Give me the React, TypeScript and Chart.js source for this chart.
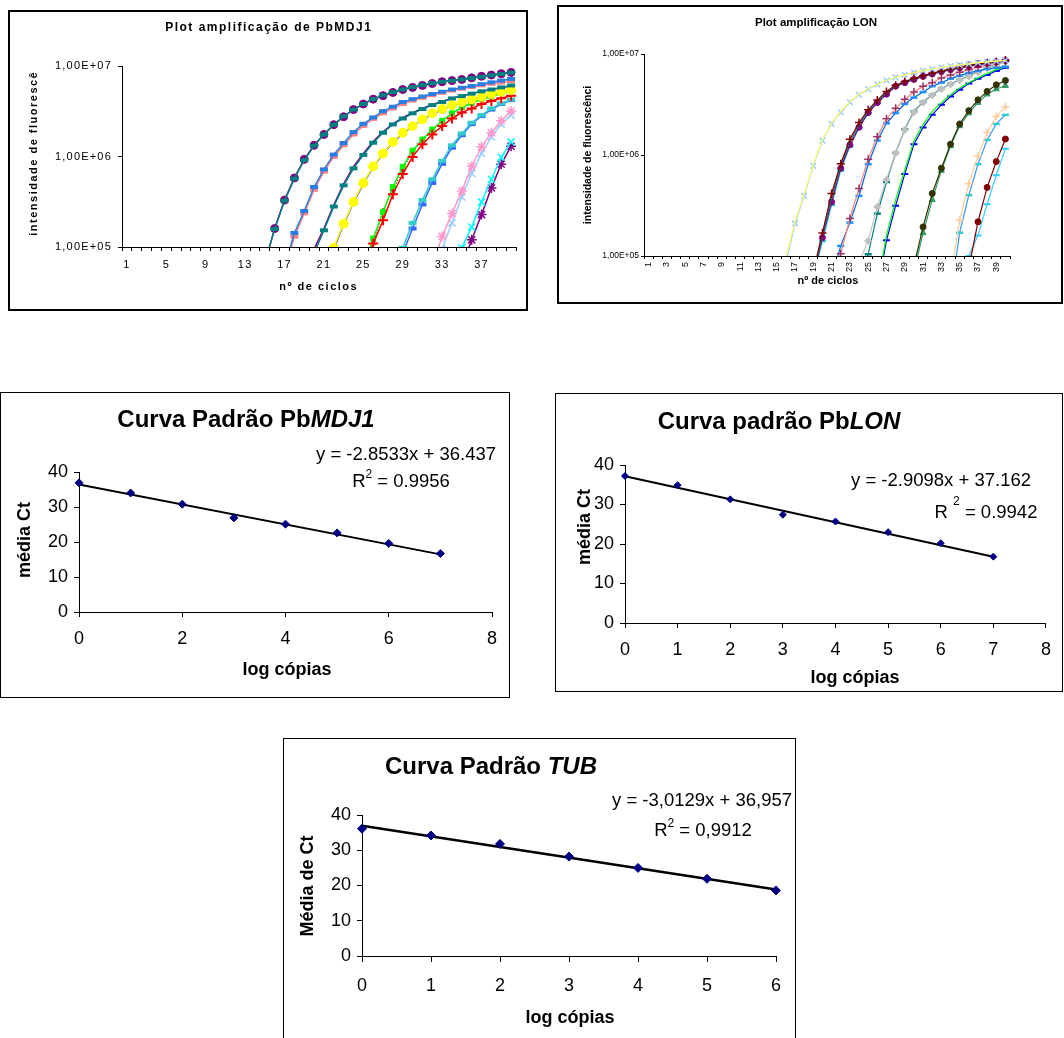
import React, { useEffect, useRef } from "react";
import { Chart, registerables } from "chart.js";

Chart.register(...registerables);

const FONT = "'Liberation Sans', Arial, Helvetica, sans-serif";
Chart.defaults.font.family = FONT;
Chart.defaults.color = "#000";

// ---------------- categories and tick labels ----------------
const cycles = [
  "1", "2", "3", "4", "5", "6", "7", "8", "9", "10",
  "11", "12", "13", "14", "15", "16", "17", "18", "19", "20",
  "21", "22", "23", "24", "25", "26", "27", "28", "29", "30",
  "31", "32", "33", "34", "35", "36", "37", "38", "39", "40",
];
const ampYTickValues = [1e5, 1e6, 1e7];
const ampYTickLabels = ["1,00E+05", "1,00E+06", "1,00E+07"];

// values are listed from their first (start) cycle on; earlier cycles have no value
function fromCycle(start: number, values: number[]): (number | null)[] {
  const out: (number | null)[] = [];
  for (let c = 1; c < start; c++) out.push(null);
  return out.concat(values);
}

// ---------------- PbMDJ1 amplification (fluorescence) ----------------
const mdjA1 = fromCycle(15, [6.5e4, 1.6e5, 3.3e5, 5.8e5, 9.3e5, 1.33e6, 1.75e6, 2.25e6, 2.75e6, 3.3e6, 3.8e6, 4.3e6, 4.7e6, 5.1e6, 5.5e6, 5.8e6, 6.1e6, 6.4e6, 6.7e6, 6.9e6, 7.1e6, 7.4e6, 7.7e6, 7.95e6, 8.2e6, 8.5e6]);
const mdjA2 = fromCycle(15, [6.8e4, 1.58e5, 3.25e5, 5.7e5, 9.1e5, 1.32e6, 1.75e6, 2.25e6, 2.78e6, 3.3e6, 3.8e6, 4.3e6, 4.75e6, 5.15e6, 5.5e6, 5.85e6, 6.15e6, 6.45e6, 6.7e6, 6.9e6, 7.1e6, 7.35e6, 7.6e6, 7.9e6, 8.15e6, 8.45e6]);
const mdjB1 = fromCycle(17, [6e4, 1.43e5, 2.5e5, 4.6e5, 7.2e5, 1.05e6, 1.41e6, 1.86e6, 2.3e6, 2.7e6, 3.17e6, 3.55e6, 4.0e6, 4.3e6, 4.6e6, 4.9e6, 5.2e6, 5.5e6, 5.75e6, 6.0e6, 6.3e6, 6.6e6, 6.9e6, 7.2e6]);
const mdjB2 = fromCycle(17, [5.5e4, 1.3e5, 2.35e5, 4.3e5, 6.8e5, 9.9e5, 1.33e6, 1.75e6, 2.18e6, 2.6e6, 3.0e6, 3.4e6, 3.8e6, 4.15e6, 4.45e6, 4.75e6, 5.05e6, 5.35e6, 5.6e6, 5.85e6, 6.1e6, 6.35e6, 6.55e6, 6.8e6]);
const mdjC1 = fromCycle(20, [9.5e4, 1.6e5, 2.9e5, 5.0e5, 7.7e5, 1.08e6, 1.46e6, 1.87e6, 2.3e6, 2.68e6, 3.05e6, 3.4e6, 3.75e6, 4.05e6, 4.4e6, 4.65e6, 4.95e6, 5.25e6, 5.5e6, 5.75e6, 6.05e6]);
const mdjC2 = fromCycle(20, [8.5e4, 1.53e5, 2.8e5, 4.8e5, 7.4e5, 1.04e6, 1.42e6, 1.83e6, 2.26e6, 2.63e6, 3.0e6, 3.35e6, 3.7e6, 4.0e6, 4.38e6, 4.65e6, 4.95e6, 5.25e6, 5.5e6, 5.8e6, 6.1e6]);
const mdjD1 = fromCycle(22, [9.8e4, 1.81e5, 3.15e5, 5.1e5, 7.8e5, 1.08e6, 1.45e6, 1.83e6, 2.17e6, 2.57e6, 3.0e6, 3.34e6, 3.7e6, 3.98e6, 4.27e6, 4.57e6, 4.9e6, 5.2e6, 5.4e6]);
const mdjD2 = fromCycle(22, [9.5e4, 1.78e5, 3.1e5, 5.0e5, 7.7e5, 1.07e6, 1.43e6, 1.8e6, 2.15e6, 2.55e6, 2.95e6, 3.3e6, 3.65e6, 3.95e6, 4.25e6, 4.55e6, 4.85e6, 5.15e6, 5.35e6]);
const mdjE1 = fromCycle(25, [6e4, 1.24e5, 2.44e5, 4.6e5, 7.7e5, 1.16e6, 1.54e6, 1.99e6, 2.48e6, 3.0e6, 3.5e6, 3.9e6, 4.3e6, 4.6e6, 5.0e6, 5.3e6]);
const mdjE2 = fromCycle(25, [5.5e4, 1.09e5, 1.97e5, 3.83e5, 6.4e5, 9.9e5, 1.37e6, 1.75e6, 2.17e6, 2.63e6, 3.06e6, 3.4e6, 3.8e6, 4.1e6, 4.4e6, 4.7e6]);
const mdjE3 = fromCycle(25, [6e4, 1.1e5, 2.5e5, 4.2e5, 7.2e5, 1.12e6, 1.5e6, 1.95e6, 2.45e6, 2.95e6, 3.45e6, 3.85e6, 4.25e6, 4.6e6, 4.95e6, 5.25e6]);
const mdjF1 = fromCycle(29, [9.8e4, 1.85e5, 3.3e5, 5.6e5, 8.95e5, 1.33e6, 1.8e6, 2.36e6, 2.87e6, 3.4e6, 3.86e6, 4.27e6]);
const mdjF2 = fromCycle(29, [8.5e4, 1.6e5, 2.95e5, 5.1e5, 8.3e5, 1.25e6, 1.72e6, 2.28e6, 2.8e6, 3.3e6, 3.8e6, 4.2e6]);
const mdjG1 = fromCycle(32, [6e4, 1.31e5, 2.34e5, 4.17e5, 7.8e5, 1.28e6, 1.83e6, 2.48e6, 3.18e6]);
const mdjG2 = fromCycle(32, [5e4, 9.5e4, 1.85e5, 3.57e5, 6.5e5, 1.08e6, 1.65e6, 2.28e6, 2.87e6]);
const mdjH1 = fromCycle(35, [9.8e4, 1.66e5, 3.15e5, 5.6e5, 9.8e5, 1.45e6]);
const mdjH2 = fromCycle(35, [6e4, 1.2e5, 2.28e5, 4.5e5, 8.2e5, 1.3e6]);

// ---------------- LON amplification (fluorescence) ----------------
const lonA1 = fromCycle(16, [8.5e4, 2.1e5, 3.94e5, 7.8e5, 1.39e6, 2.03e6, 2.65e6, 3.34e6, 3.94e6, 4.49e6, 5.0e6, 5.47e6, 5.86e6, 6.2e6, 6.55e6, 6.85e6, 7.1e6, 7.35e6, 7.6e6, 7.8e6, 8.0e6, 8.2e6, 8.35e6, 8.5e6, 8.65e6]);
const lonA2 = fromCycle(16, [9.5e4, 2.2e5, 4.1e5, 8.0e5, 1.42e6, 2.06e6, 2.7e6, 3.38e6, 3.98e6, 4.52e6, 5.02e6, 5.5e6, 5.88e6, 6.22e6, 6.55e6, 6.85e6, 7.1e6, 7.35e6, 7.6e6, 7.8e6, 8.0e6, 8.2e6, 8.35e6, 8.5e6, 8.65e6]);
const lonB1 = fromCycle(19, [7e4, 1.69e5, 4.16e5, 8.2e5, 1.43e6, 2.1e6, 2.8e6, 3.5e6, 4.26e6, 4.9e6, 5.35e6, 5.75e6, 6.1e6, 6.45e6, 6.8e6, 7.1e6, 7.4e6, 7.7e6, 7.95e6, 8.2e6, 8.45e6, 8.7e6]);
const lonB2 = fromCycle(19, [6.5e4, 1.52e5, 3.43e5, 7.4e5, 1.26e6, 1.88e6, 2.63e6, 3.3e6, 4.0e6, 4.8e6, 5.2e6, 5.6e6, 6.0e6, 6.35e6, 6.7e6, 7.0e6, 7.3e6, 7.6e6, 7.85e6, 8.1e6, 8.35e6, 8.6e6]);
const lonB3 = fromCycle(19, [6.8e4, 1.6e5, 3.8e5, 7.8e5, 1.35e6, 2.0e6, 2.75e6, 3.45e6, 4.15e6, 4.85e6, 5.3e6, 5.7e6, 6.05e6, 6.4e6, 6.75e6, 7.05e6, 7.35e6, 7.65e6, 7.9e6, 8.15e6, 8.4e6, 8.65e6]);
const lonB4 = fromCycle(19, [6e4, 1.4e5, 3.2e5, 7.0e5, 1.22e6, 1.85e6, 2.6e6, 3.3e6, 4.0e6, 4.75e6, 5.2e6, 5.6e6, 6.0e6, 6.35e6, 6.7e6, 7.0e6, 7.3e6, 7.6e6, 7.85e6, 8.1e6, 8.35e6, 8.6e6]);
const lonC1 = fromCycle(21, [7.3e4, 1.05e5, 2.35e5, 4.67e5, 9.1e5, 1.52e6, 2.28e6, 2.9e6, 3.57e6, 4.2e6, 4.8e6, 5.2e6, 5.8e6, 6.2e6, 6.6e6, 7.0e6, 7.4e6, 7.8e6, 8.2e6, 8.5e6]);
const lonC2 = fromCycle(21, [6e4, 1.26e5, 2.14e5, 3.94e5, 8.1e5, 1.39e6, 2.06e6, 2.6e6, 3.2e6, 3.7e6, 4.2e6, 4.8e6, 5.2e6, 5.7e6, 6.1e6, 6.5e6, 6.8e6, 7.1e6, 7.3e6, 7.5e6]);
const lonD1 = fromCycle(24, [8.6e4, 1.41e5, 3.07e5, 5.7e5, 1.04e6, 1.77e6, 2.65e6, 3.3e6, 3.9e6, 4.5e6, 5.0e6, 5.5e6, 6.0e6, 6.6e6, 7.2e6, 7.8e6, 8.4e6]);
const lonD2 = fromCycle(24, [6e4, 1.04e5, 2.63e5, 5.4e5, 1.05e6, 1.8e6, 2.7e6, 3.35e6, 3.95e6, 4.55e6, 5.05e6, 5.55e6, 6.05e6, 6.65e6, 7.25e6, 7.85e6, 8.45e6]);
const lonE1 = fromCycle(26, [4.9e4, 1.6e5, 3.6e5, 7.1e5, 1.38e6, 2.0e6, 2.7e6, 3.3e6, 3.95e6, 4.6e6, 5.2e6, 5.8e6, 6.4e6, 7.0e6, 7.5e6]);
const lonE2 = fromCycle(26, [4.5e4, 1.43e5, 3.14e5, 6.5e5, 1.28e6, 1.87e6, 2.5e6, 3.14e6, 3.8e6, 4.43e6, 5.1e6, 5.7e6, 6.2e6, 6.8e6, 7.3e6]);
const lonF1 = fromCycle(30, [8e4, 1.94e5, 4.16e5, 7.4e5, 1.28e6, 2.03e6, 2.75e6, 3.52e6, 4.26e6, 4.95e6, 5.47e6]);
const lonF2 = fromCycle(30, [7e4, 1.69e5, 3.6e5, 7.0e5, 1.23e6, 1.94e6, 2.6e6, 3.3e6, 4.0e6, 4.5e6, 4.85e6]);
const lonG1 = fromCycle(34, [6.3e4, 2.26e5, 5.2e5, 9.8e5, 1.67e6, 2.4e6, 3.0e6]);
const lonG2 = fromCycle(34, [4e4, 1.7e5, 4.0e5, 8.1e5, 1.41e6, 2.03e6, 2.5e6]);
const lonH1 = fromCycle(36, [7.6e4, 2.18e5, 4.78e5, 8.6e5, 1.44e6]);
const lonH2 = fromCycle(36, [1.0e5, 1.6e5, 3.26e5, 6.3e5, 1.15e6]);

// ---------------- standard curves ----------------
const mdjLogCopies = [0, 1, 2, 3, 4, 5, 6, 7];
const mdjMeanCt = [36.9, 34.0, 30.8, 26.9, 25.1, 22.6, 19.6, 16.7];
const mdjTrendX = [0, 7];
const mdjTrendCt = [36.44, 16.46];
const mdjEquation = "y = -2.8533x + 36.437";
const mdjR2 = " = 0.9956";

const lonLogCopies = [0, 1, 2, 3, 4, 5, 6, 7];
const lonMeanCt = [37.2, 34.9, 31.3, 27.4, 25.7, 23.0, 20.2, 16.8];
const lonTrendX = [0, 7];
const lonTrendCt = [37.16, 16.79];
const lonEquation = "y = -2.9098x + 37.162";
const lonR2 = " = 0.9942";

const tubLogCopies = [0, 1, 2, 3, 4, 5, 6];
const tubMeanCt = [36.1, 34.2, 31.8, 28.2, 25.0, 21.9, 18.6];
const tubTrendX = [0, 6];
const tubTrendCt = [36.96, 18.88];
const tubEquation = "y = -3,0129x + 36,957";
const tubR2 = " = 0,9912";

// ---------------- layout helpers ----------------
type Box = { l: number; t: number; w: number; h: number; b: number };
type Rect = { x: number; y: number; w: number; h: number };
type Plot = { x0: number; y0: number; x1: number; y1: number };
type Run = { t: string; font: string; dy?: number };
type TextItem = { x: number; y: number; runs: Run[]; rot?: boolean; spacing?: number };

function canvasOf(b: Box): Rect {
  return { x: b.l + b.b, y: b.t + b.b, w: b.w - 2 * b.b, h: b.h - 2 * b.b };
}
const f = (spec: string) => `${spec} ${FONT}`;

function textPlugin(items: TextItem[], c: Rect, tickSpacing: number) {
  return {
    id: "pageText",
    beforeDraw(chart: any) {
      (chart.ctx as any).letterSpacing = tickSpacing + "px";
    },
    afterDraw(chart: any) {
      const ctx = chart.ctx as CanvasRenderingContext2D;
      ctx.save();
      (ctx as any).letterSpacing = "0px";
      ctx.fillStyle = "#000";
      ctx.textBaseline = "middle";
      ctx.textAlign = "left";
      for (const it of items) {
        const sp = it.spacing || 0;
        const pieces: { s: string; font: string; dy: number; w: number }[] = [];
        for (const r of it.runs) {
          ctx.font = r.font;
          if (sp) {
            for (const ch of Array.from(r.t)) pieces.push({ s: ch, font: r.font, dy: r.dy || 0, w: ctx.measureText(ch).width + sp });
          } else {
            pieces.push({ s: r.t, font: r.font, dy: r.dy || 0, w: ctx.measureText(r.t).width });
          }
        }
        const total = pieces.reduce((a, p) => a + p.w, 0) - sp;
        ctx.save();
        ctx.translate(it.x - c.x, it.y - c.y);
        if (it.rot) ctx.rotate(-Math.PI / 2);
        let x = -total / 2;
        for (const p of pieces) {
          ctx.font = p.font;
          ctx.fillText(p.s, x, p.dy);
          x += p.w;
        }
        ctx.restore();
      }
      ctx.restore();
    },
  };
}

type Spec = {
  data: (number | null)[];
  line: string;
  marker: string | false;
  mColor?: string;
  r?: number;
  mw?: number;
  dash?: number[];
  lw?: number;
};

function ampDataset(s: Spec, defLw: number) {
  const mc = s.mColor || s.line;
  return {
    data: s.data,
    borderColor: s.line,
    backgroundColor: mc,
    borderWidth: s.lw ?? defLw,
    borderDash: s.dash || [],
    pointStyle: s.marker || "circle",
    pointRadius: s.marker ? s.r ?? 4 : 0,
    pointHoverRadius: 0,
    pointBorderColor: mc,
    pointBackgroundColor: mc,
    pointBorderWidth: s.mw ?? 1,
    tension: 0,
    spanGaps: false,
    fill: false,
  };
}

type AmpOpts = {
  box: Box;
  plot: Plot;
  series: Spec[];
  lw: number;
  yFont: number;
  xFont: number;
  yTick: number;
  xTick: number;
  yPad: number;
  xPad: number;
  xEvery: number;
  xRot: number;
  tickSpacing: number;
  texts: TextItem[];
};

function ampConfig(o: AmpOpts) {
  const c = canvasOf(o.box);
  const p = o.plot;
  return {
    type: "line",
    data: { labels: cycles, datasets: o.series.map((s) => ampDataset(s, o.lw)) },
    options: {
      animation: false,
      responsive: false,
      devicePixelRatio: 1,
      events: [],
      layout: { autoPadding: false, padding: { left: 0, top: p.y0 - c.y, right: c.x + c.w - p.x1, bottom: 0 } },
      plugins: { legend: { display: false }, tooltip: { enabled: false }, title: { display: false } },
      scales: {
        x: {
          type: "category",
          offset: true,
          grid: { offset: true, drawOnChartArea: false, tickLength: o.xTick, color: "#000", lineWidth: 1 },
          border: { color: "#000", width: 1 },
          ticks: {
            autoSkip: false,
            maxRotation: o.xRot,
            minRotation: o.xRot,
            padding: o.xPad,
            color: "#000",
            font: { size: o.xFont },
            callback: (_v: any, i: number) => (i % o.xEvery === 0 ? cycles[i] : ""),
          },
          afterFit: (s: any) => {
            s.height = c.y + c.h - p.y1;
          },
        },
        y: {
          type: "logarithmic",
          min: ampYTickValues[0],
          max: ampYTickValues[ampYTickValues.length - 1],
          afterBuildTicks: (s: any) => {
            s.ticks = ampYTickValues.map((v) => ({ value: v }));
          },
          grid: { drawOnChartArea: false, tickLength: o.yTick, color: "#000", lineWidth: 1 },
          border: { color: "#000", width: 1 },
          ticks: {
            padding: o.yPad,
            color: "#000",
            font: { size: o.yFont },
            callback: (v: any) => {
              const i = ampYTickValues.indexOf(Number(v));
              return i >= 0 ? ampYTickLabels[i] : "";
            },
          },
          afterFit: (s: any) => {
            s.width = p.x0 - c.x;
          },
        },
      },
    },
    plugins: [textPlugin(o.texts, c, o.tickSpacing)],
  };
}

type StdOpts = {
  box: Box;
  plot: Plot;
  xs: number[];
  ys: number[];
  tx: number[];
  ty: number[];
  xMax: number;
  xStep: number;
  tickFont: number;
  xTick: number;
  xPad: number;
  yPad: number;
  markerR: number;
  trendW: number;
  texts: TextItem[];
};

function stdConfig(o: StdOpts) {
  const c = canvasOf(o.box);
  const p = o.plot;
  return {
    type: "scatter",
    data: {
      datasets: [
        {
          type: "scatter",
          data: o.xs.map((x, i) => ({ x, y: o.ys[i] })),
          pointStyle: "rectRot",
          pointRadius: o.markerR,
          pointHoverRadius: 0,
          pointBackgroundColor: "#000080",
          pointBorderColor: "#000080",
          pointBorderWidth: 1,
          order: 0,
          clip: false,
        },
        {
          type: "line",
          data: o.tx.map((x, i) => ({ x, y: o.ty[i] })),
          borderColor: "#000",
          borderWidth: o.trendW,
          pointRadius: 0,
          pointHoverRadius: 0,
          order: 1,
          clip: false,
        },
      ],
    },
    options: {
      animation: false,
      responsive: false,
      devicePixelRatio: 1,
      events: [],
      layout: { autoPadding: false, padding: { left: 0, top: p.y0 - c.y, right: c.x + c.w - p.x1, bottom: 0 } },
      plugins: { legend: { display: false }, tooltip: { enabled: false }, title: { display: false } },
      scales: {
        x: {
          type: "linear",
          min: 0,
          max: o.xMax,
          grid: { drawOnChartArea: false, tickLength: o.xTick, color: "#000", lineWidth: 1 },
          border: { color: "#000", width: 1 },
          ticks: { stepSize: o.xStep, padding: o.xPad, color: "#000", font: { size: o.tickFont } },
          afterFit: (s: any) => {
            s.height = c.y + c.h - p.y1;
          },
        },
        y: {
          type: "linear",
          min: 0,
          max: 40,
          grid: { drawOnChartArea: false, tickLength: 5, color: "#000", lineWidth: 1 },
          border: { color: "#000", width: 1 },
          ticks: { stepSize: 10, padding: o.yPad, color: "#000", font: { size: o.tickFont } },
          afterFit: (s: any) => {
            s.width = p.x0 - c.x;
          },
        },
      },
    },
    plugins: [textPlugin(o.texts, c, 0)],
  };
}

// ---------------- panels ----------------
const box1: Box = { l: 8, t: 10, w: 520, h: 301, b: 2 };
const box2: Box = { l: 557, t: 5, w: 506, h: 299, b: 2 };
const box3: Box = { l: 0, t: 392, w: 510, h: 306, b: 1 };
const box4: Box = { l: 555, t: 393, w: 508, h: 299, b: 1 };
const box5: Box = { l: 283, t: 738, w: 513, h: 310, b: 1 };

const make1 = () =>
  ampConfig({
    box: box1,
    plot: { x0: 122, y0: 66, x1: 516, y1: 247 },
    lw: 1.5,
    yFont: 11,
    xFont: 11,
    yTick: 4,
    xTick: 4,
    yPad: 6,
    xPad: 7,
    xEvery: 4,
    xRot: 0,
    tickSpacing: 1.2,
    series: [
      { data: mdjA2, line: "#008080", marker: "line", r: 4, mw: 4 },
      { data: mdjA1, line: "#800080", marker: "circle", r: 4 },
      { data: mdjB1, line: "#2A7DE1", marker: "line", r: 4, mw: 4 },
      { data: mdjB2, line: "#FF8080", marker: "line", r: 4, mw: 4 },
      { data: mdjC2, line: "#008080", marker: "line", r: 4, mw: 4 },
      { data: mdjC1, line: "#800080", marker: false },
      { data: mdjD1, line: "#FFFF00", marker: "circle", r: 4.5 },
      { data: mdjD2, line: "#0000FF", marker: "line", r: 4, mw: 4 },
      { data: mdjE2, line: "#FF0000", marker: "cross", r: 5, mw: 2 },
      { data: mdjE1, line: "#00FF00", marker: "rect", r: 3.5 },
      { data: mdjE3, line: "#000000", marker: "star", r: 3, mw: 1, lw: 1, dash: [1, 2] },
      { data: mdjF1, line: "#33CCCC", marker: "line", r: 4, mw: 4 },
      { data: mdjF2, line: "#3366FF", marker: "line", r: 4, mw: 4 },
      { data: mdjG1, line: "#FF99CC", marker: "star", r: 5, mw: 1.5 },
      { data: mdjG2, line: "#99CCFF", marker: "crossRot", r: 5, mw: 1.5 },
      { data: mdjH1, line: "#00FFFF", marker: "crossRot", r: 5, mw: 1.5 },
      { data: mdjH2, line: "#800080", marker: "star", r: 5, mw: 1.5 },
    ],
    texts: [
      { x: 268, y: 28, runs: [{ t: "Plot amplificação de PbMDJ1", font: f("bold 12px") }], spacing: 1.5 },
      { x: 34, y: 154, rot: true, runs: [{ t: "intensidade de fluorescê", font: f("bold 11px") }], spacing: 1.5 },
      { x: 318, y: 287, runs: [{ t: "nº de ciclos", font: f("bold 11px") }], spacing: 1.5 },
    ],
  });

const make2 = () =>
  ampConfig({
    box: box2,
    plot: { x0: 644, y0: 54, x1: 1010, y1: 256 },
    lw: 1.2,
    yFont: 8.5,
    xFont: 9,
    yTick: 3,
    xTick: 3,
    yPad: 2,
    xPad: 3,
    xEvery: 2,
    xRot: 90,
    tickSpacing: 0,
    series: [
      { data: lonA2, line: "#FFFF66", marker: false },
      { data: lonA1, line: "#99CCFF", marker: "crossRot", r: 4, mw: 1.5 },
      { data: lonB1, line: "#800000", marker: "cross", r: 4, mw: 1.5 },
      { data: lonB3, line: "#008080", marker: false },
      { data: lonB2, line: "#800080", marker: "circle", r: 3 },
      { data: lonB4, line: "#33CCCC", marker: "line", r: 3.5, mw: 2.5 },
      { data: lonC1, line: "#FF8080", marker: "cross", mColor: "#993366", r: 4, mw: 1.5 },
      { data: lonC2, line: "#0066CC", marker: "line", mColor: "#1E90FF", r: 3.5, mw: 2.5 },
      { data: lonD1, line: "#C0C0C0", marker: "rectRot", r: 3.5 },
      { data: lonD2, line: "#008080", marker: "line", r: 3.5, mw: 2.5 },
      { data: lonE1, line: "#00FF00", marker: false },
      { data: lonE2, line: "#0000FF", marker: "line", r: 3.5, mw: 2 },
      { data: lonF1, line: "#333300", marker: "circle", r: 3 },
      { data: lonF2, line: "#339966", marker: "triangle", r: 3.5 },
      { data: lonG1, line: "#FFCC99", marker: "cross", r: 4, mw: 1.5 },
      { data: lonG2, line: "#3399FF", marker: "line", mColor: "#33CCCC", r: 3.5, mw: 2.5 },
      { data: lonH1, line: "#800000", marker: "circle", r: 3 },
      { data: lonH2, line: "#33CCFF", marker: "line", r: 3.5, mw: 2 },
    ],
    texts: [
      { x: 816, y: 23, runs: [{ t: "Plot amplificação LON", font: f("bold 11.5px") }] },
      { x: 588, y: 155, rot: true, runs: [{ t: "intensidade de fluorescênci", font: f("bold 10.5px") }] },
      { x: 828, y: 281, runs: [{ t: "nº de ciclos", font: f("bold 11px") }] },
    ],
  });

const make3 = () =>
  stdConfig({
    box: box3,
    plot: { x0: 79, y0: 472, x1: 492, y1: 612 },
    xs: mdjLogCopies,
    ys: mdjMeanCt,
    tx: mdjTrendX,
    ty: mdjTrendCt,
    xMax: 8,
    xStep: 2,
    tickFont: 18,
    xTick: 5,
    xPad: 11,
    yPad: 6,
    markerR: 4,
    trendW: 2,
    texts: [
      { x: 246, y: 420, runs: [{ t: "Curva Padrão Pb", font: f("bold 24px") }, { t: "MDJ1", font: f("italic bold 24px") }] },
      { x: 406, y: 455, runs: [{ t: mdjEquation, font: f("18.5px") }] },
      { x: 401, y: 482, runs: [{ t: "R", font: f("18.5px") }, { t: "2", font: f("12px"), dy: -7 }, { t: mdjR2, font: f("18.5px") }] },
      { x: 25, y: 540, rot: true, runs: [{ t: "média Ct", font: f("bold 18px") }] },
      { x: 287, y: 670, runs: [{ t: "log cópias", font: f("bold 18px") }] },
    ],
  });

const make4 = () =>
  stdConfig({
    box: box4,
    plot: { x0: 625, y0: 465, x1: 1052, y1: 623 },
    xs: lonLogCopies,
    ys: lonMeanCt,
    tx: lonTrendX,
    ty: lonTrendCt,
    xMax: 8,
    xStep: 1,
    tickFont: 18,
    xTick: 5,
    xPad: 11,
    yPad: 6,
    markerR: 3.5,
    trendW: 2,
    texts: [
      { x: 779, y: 422, runs: [{ t: "Curva padrão Pb", font: f("bold 24px") }, { t: "LON", font: f("italic bold 24px") }] },
      { x: 941, y: 481, runs: [{ t: lonEquation, font: f("18.5px") }] },
      { x: 986, y: 513, runs: [{ t: "R ", font: f("18.5px") }, { t: "2", font: f("12px"), dy: -11 }, { t: lonR2, font: f("18.5px") }] },
      { x: 585, y: 527, rot: true, runs: [{ t: "média Ct", font: f("bold 18px") }] },
      { x: 855, y: 678, runs: [{ t: "log cópias", font: f("bold 18px") }] },
    ],
  });

const make5 = () =>
  stdConfig({
    box: box5,
    plot: { x0: 362, y0: 815, x1: 776, y1: 956 },
    xs: tubLogCopies,
    ys: tubMeanCt,
    tx: tubTrendX,
    ty: tubTrendCt,
    xMax: 6,
    xStep: 1,
    tickFont: 18,
    xTick: 6,
    xPad: 13,
    yPad: 6,
    markerR: 4.5,
    trendW: 2.5,
    texts: [
      { x: 491, y: 767, runs: [{ t: "Curva Padrão ", font: f("bold 24px") }, { t: "TUB", font: f("italic bold 24px") }] },
      { x: 702, y: 801, runs: [{ t: tubEquation, font: f("18.5px") }] },
      { x: 703, y: 831, runs: [{ t: "R", font: f("18.5px") }, { t: "2", font: f("12px"), dy: -7 }, { t: tubR2, font: f("18.5px") }] },
      { x: 308, y: 886, rot: true, runs: [{ t: "Média de Ct", font: f("bold 18px") }] },
      { x: 570, y: 1018, runs: [{ t: "log cópias", font: f("bold 18px") }] },
    ],
  });

function Panel({ box, make }: { box: Box; make: () => any }) {
  const ref = useRef<HTMLCanvasElement>(null);
  useEffect(() => {
    const chart = new Chart(ref.current as HTMLCanvasElement, make());
    return () => chart.destroy();
  }, []);
  const c = canvasOf(box);
  return (
    <div
      style={{
        position: "absolute",
        left: box.l,
        top: box.t,
        width: box.w,
        height: box.h,
        border: `${box.b}px solid #000`,
        boxSizing: "border-box",
        background: "#fff",
      }}
    >
      <canvas ref={ref} width={c.w} height={c.h} style={{ display: "block", width: c.w, height: c.h }} />
    </div>
  );
}

export default function App() {
  return (
    <div
      style={{
        position: "absolute",
        left: 0,
        top: 0,
        width: 1064,
        height: 1038,
        overflow: "hidden",
        background: "#fff",
      }}
    >
      <Panel box={box1} make={make1} />
      <Panel box={box2} make={make2} />
      <Panel box={box3} make={make3} />
      <Panel box={box4} make={make4} />
      <Panel box={box5} make={make5} />
    </div>
  );
}
